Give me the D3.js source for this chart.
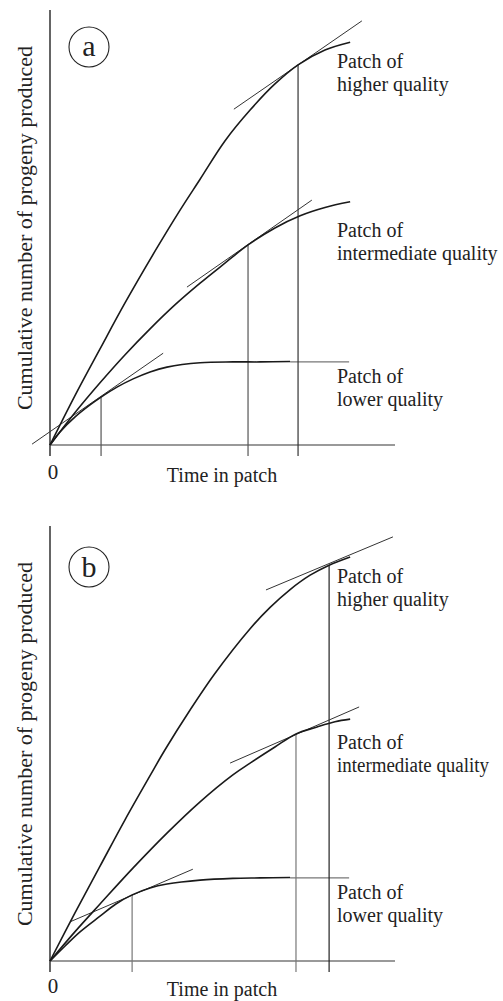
<!DOCTYPE html>
<html>
<head>
<meta charset="utf-8">
<script src="https://cdn.jsdelivr.net/npm/d3@7"></script>
<style>
  body { margin: 0; background: #fff; }
</style>
</head>
<body>
<svg width="503" height="1001"></svg>
<script>
// time in patch (0-100) and cumulative progeny (0-100)

// ---- panel a ----
const aHighT  = [0, 7.2, 14.5, 21.7, 31.0, 37.7, 43.5, 50.7, 58.0, 65.2, 71.9, 79.7, 87.0];
const aHighV  = [0, 11.3, 22.1, 32.6, 45.3, 54.0, 61.1, 69.9, 77.0, 83.0, 87.4, 90.8, 92.6];
const aMidT   = [0, 7.2, 14.5, 21.7, 29.0, 36.2, 43.5, 50.7, 57.4, 65.2, 72.5, 79.7, 87.0];
const aMidV   = [0, 7.4, 14.3, 20.7, 26.7, 32.2, 37.2, 41.8, 46.0, 49.9, 52.7, 54.6, 55.9];
const aLowT   = [0, 2.9, 7.2, 11.6, 14.8, 19.4, 24.1, 29.0, 33.9, 43.5, 53.0, 60.9, 69.6];
const aLowV   = [0, 3.0, 6.4, 9.2, 11.0, 13.3, 15.2, 16.8, 17.9, 18.9, 19.1, 19.1, 19.2];
const aLowPlateau = [69.6, 86.7, 19.1];            // t from, t to, level
// optimal leaving time (tangent point) per patch
const aLeaveT = [71.9, 57.4, 14.8];
const aLeaveV = [87.4, 46.0, 11.0];
// tangent lines: [t0, v0, t1, v1]
const aTangents = [
  [53.3, 77.2, 90.4, 97.5],
  [39.7, 36.3, 75.9, 56.3],
  [-5.2, 0.2, 32.8, 21.1]
];

// ---- panel b ----
const bHighT  = [0, 7.2, 14.5, 21.7, 29.0, 33.3, 40.6, 47.8, 58.0, 63.8, 69.6, 75.4, 80.9, 87.0];
const bHighV  = [0, 11.0, 21.8, 32.4, 42.6, 48.5, 57.7, 66.1, 76.4, 81.3, 85.4, 88.7, 91.0, 92.9];
const bMidT   = [0, 7.2, 14.5, 24.1, 33.9, 43.5, 53.0, 58.0, 65.2, 71.3, 77.4, 82.6, 87.0];
const bMidV   = [0, 6.7, 13.1, 21.4, 29.4, 36.6, 42.8, 45.5, 49.2, 52.2, 53.8, 55.0, 55.6];
const bLowT   = [0, 4.3, 8.7, 14.5, 19.1, 23.8, 29.0, 33.9, 43.5, 53.0, 60.9, 69.6];
const bLowV   = [0, 3.4, 6.7, 10.3, 13.1, 15.2, 16.8, 17.7, 18.6, 19.0, 19.1, 19.2];
const bLowPlateau = [69.6, 86.7, 19.1];
const bLeaveT = [80.9, 71.3, 23.8];
const bLeaveV = [91.0, 52.2, 15.2];
const bTangents = [
  [62.6, 85.3, 99.4, 97.5],
  [52.2, 45.5, 89.6, 58.4],
  [5.8, 9.0, 41.4, 21.1]
];

const patchNames = ["higher quality", "intermediate quality", "lower quality"];

const serif = "'Liberation Serif', 'Times New Roman', Times, 'DejaVu Serif', serif";
const svg = d3.select("svg").attr("font-family", serif);

const axisLeft = 50, axisRight = 395, plotH = 435;

function drawPanel(opt) {
  const g = svg.append("g").attr("transform", `translate(0, ${opt.axisY})`);

  const x = d3.scaleLinear().domain([0, 100]).range([axisLeft, axisRight]);
  const y = d3.scaleLinear().domain([0, 100]).range([0, -plotH]);

  // axes
  g.append("line")
    .attr("x1", axisLeft).attr("x2", axisLeft)
    .attr("y1", y(100)).attr("y2", 11)
    .attr("stroke", "#111").attr("stroke-width", 1.3);
  g.append("line")
    .attr("x1", axisLeft).attr("x2", axisRight)
    .attr("y1", 0).attr("y2", 0)
    .attr("stroke", "#777").attr("stroke-width", 1.5);

  g.append("text").attr("x", 53).attr("y", opt.zeroY)
    .attr("font-size", "21px").attr("text-anchor", "middle").attr("fill", "#222").text("0");
  g.append("text").attr("x", 222).attr("y", opt.zeroY + 3)
    .attr("font-size", "20px").attr("text-anchor", "middle").attr("fill", "#222").text("Time in patch");
  g.append("text")
    .attr("transform", "translate(32, -217) rotate(-90)")
    .attr("font-size", "22px").attr("text-anchor", "middle").attr("fill", "#222")
    .text("Cumulative number of progeny produced");

  // panel letter
  const lg = g.append("g").attr("transform", `translate(89, ${opt.letterY})`);
  lg.append("circle").attr("r", 20).attr("fill", "none")
    .attr("stroke", "#222").attr("stroke-width", 1.1);
  lg.append("text").attr("y", opt.letter === "a" ? 9 : 10).attr("font-size", "30px")
    .attr("text-anchor", "middle").attr("fill", "#222").text(opt.letter);

  // plateau of the lower quality patch
  g.append("line")
    .attr("x1", x(opt.plateau[0])).attr("x2", x(opt.plateau[1]))
    .attr("y1", y(opt.plateau[2])).attr("y2", y(opt.plateau[2]))
    .attr("stroke", "#777").attr("stroke-width", 1.3);

  // leaving-time drop lines
  opt.leaveT.forEach((t, i) => {
    g.append("line")
      .attr("x1", x(t)).attr("x2", x(t))
      .attr("y1", y(opt.leaveV[i])).attr("y2", 11)
      .attr("stroke", opt.dropColors[i]).attr("stroke-width", 1.2);
  });

  // tangents
  g.selectAll(".tan").data(opt.tangents).enter().append("line")
    .attr("x1", d => x(d[0])).attr("y1", d => y(d[1]))
    .attr("x2", d => x(d[2])).attr("y2", d => y(d[3]))
    .attr("stroke", "#333").attr("stroke-width", 1);

  // gain curves
  const line = d3.line()
    .x(d => x(d[0])).y(d => y(d[1]))
    .curve(d3.curveCatmullRom.alpha(0.5));
  opt.curves.forEach(c => {
    const pts = c[0].map((t, i) => [t, c[1][i]]);
    g.append("path").attr("d", line(pts))
      .attr("fill", "none").attr("stroke", "#1a1a1a").attr("stroke-width", 1.6);
  });

  // curve labels
  patchNames.forEach((name, i) => {
    const t = g.append("text").attr("x", 337).attr("font-size", "20px").attr("fill", "#222");
    t.append("tspan").attr("x", 337).attr("y", opt.labelY[i]).text("Patch of");
    const s = t.append("tspan").attr("x", 337).attr("y", opt.labelY[i] + 23).text(name);
    if (opt.squeeze && i === 1) s.attr("textLength", 152).attr("lengthAdjust", "spacingAndGlyphs");
  });
}

drawPanel({
  axisY: 445, letter: "a", letterY: -398, zeroY: 34,
  curves: [[aHighT, aHighV], [aMidT, aMidV], [aLowT, aLowV]],
  plateau: aLowPlateau, leaveT: aLeaveT, leaveV: aLeaveV, tangents: aTangents,
  dropColors: ["#333", "#555", "#555"],
  labelY: [-377, -208, -62], squeeze: false
});

drawPanel({
  axisY: 961, letter: "b", letterY: -394, zeroY: 32,
  curves: [[bHighT, bHighV], [bMidT, bMidV], [bLowT, bLowV]],
  plateau: bLowPlateau, leaveT: bLeaveT, leaveV: bLeaveV, tangents: bTangents,
  dropColors: ["#222", "#777", "#777"],
  labelY: [-378, -212, -62], squeeze: true
});
</script>
</body>
</html>
